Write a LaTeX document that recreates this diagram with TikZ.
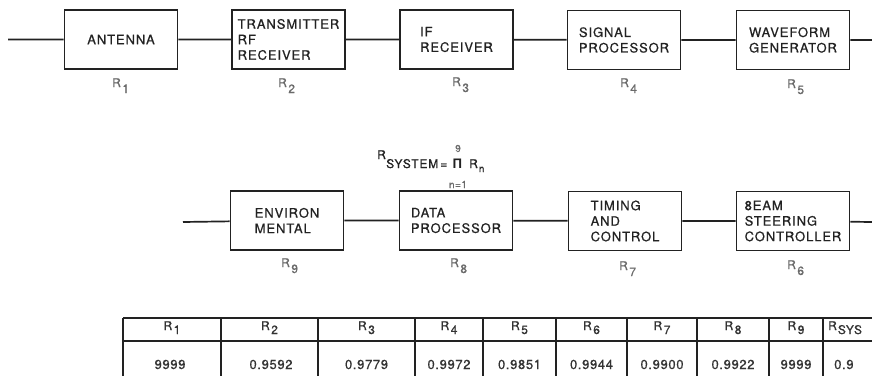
\documentclass[tikz,border=0pt]{standalone}
\usepackage{fontspec}
\setmainfont{TeX Gyre Heros}
\newfontfamily\boxfont{TeX Gyre Heros}[LetterSpace=7,FakeBold=0.7]
\newfontfamily\valfont{TeX Gyre Heros}[LetterSpace=5,FakeBold=0.6]
\definecolor{ink}{HTML}{222222}
\definecolor{labgray}{HTML}{6A6A6A}
\definecolor{celltext}{HTML}{333333}
\newcommand\Rs[2][6pt]{R\kern1.5pt\raisebox{-#1}{#2}}
\newcommand\fntbox{\boxfont\fontsize{13pt}{15.5pt}\selectfont}
\newcommand\fntlbl{\valfont\fontsize{12pt}{14pt}\selectfont}
\newcommand\fnthead{\valfont\fontsize{12pt}{14pt}\selectfont}
\newcommand\fntval{\valfont\fontsize{13pt}{15pt}\selectfont}
\newcommand\fntform{\boxfont\fontsize{12pt}{14pt}\selectfont}
\newcommand\fntsmall{\valfont\fontsize{10pt}{12pt}\selectfont}
\newcommand\fntpi{\bfseries\fontsize{13pt}{13pt}\selectfont}
\tikzset{
  blk/.style={draw=ink, line width=1.7pt, minimum width=113pt, minimum height=59pt,
    align=left, text=ink, inner sep=0pt, font=\fntbox},
  lbl/.style={anchor=base west, text=labgray, inner sep=0pt, font=\fntlbl},
  wire/.style={draw=ink, line width=1.7pt},
  tabline/.style={draw=ink, line width=1.4pt},
  hcell/.style={anchor=base, text=celltext, inner sep=0pt, font=\fnthead},
  vcell/.style={anchor=base, text=celltext, inner sep=0pt, font=\fntval},
  ftext/.style={anchor=base west, text=ink, inner sep=0pt, font=\fntform},
  fsmall/.style={anchor=base, text=labgray, inner sep=0pt, font=\fntsmall}
}
\begin{document}
\begin{tikzpicture}[x=1pt,y=-1pt]
\useasboundingbox (0,0) rectangle (872,375);

% top row
\node[blk] (ant) at (121,39.5) {ANTENNA};
\node[blk] (trx) at (288.5,39.5) {TRANSMITTER\\RF\\RECEIVER};
\node[blk] (ifr) at (456.5,39.5) {IF\\RECEIVER};
\node[blk] (sig) at (624,40) {SIGNAL\\PROCESSOR};
\node[blk] (wav) at (793,40) {WAVEFORM\\GENERATOR};
\coordinate (tl) at (8,39.5);
\coordinate (tr) at (872,40);
\draw[wire] (tl) -- (ant) -- (trx) -- (ifr) -- (sig) -- (wav) -- (tr);

\node[lbl] (r1) at (112,87) {\Rs{1}};
\node[lbl] (r2) at (278,87) {\Rs{2}};
\node[lbl] (r3) at (452,86) {\Rs{3}};
\node[lbl] (r4) at (620,87) {\Rs{4}};
\node[lbl] (r5) at (787,88) {\Rs{5}};

% formula
\node[ftext] (fr) at (377,159) {R};
\node[ftext] (fsys) at (386,168) {SYSTEM\,=};
\node[ftext, font=\fntpi] (fpi) at (453,168) {Π};
\node[ftext] (frn) at (469,168) {R\kern1pt\raisebox{-4pt}{\fntsmall n}};
\node[fsmall] (f9) at (458,152) {9};
\node[fsmall] (fn1) at (458,188) {n=1};

% bottom row
\node[blk] (env) at (287,220.5) {ENVIRON\\MENTAL};
\node[blk] (dat) at (456,220.5) {DATA\\PROCESSOR};
\node[blk] (tim) at (625,221) {TIMING\\AND\\CONTROL};
\node[blk] (bsc) at (793,221) {8EAM\\STEERING\\CONTROLLER};
\coordinate (bl) at (183,222);
\coordinate (br) at (872,222);
\draw[wire] (bl) -- (env) -- (dat) -- (tim) -- (bsc) -- (br);

\node[lbl] (r9) at (281,267) {\Rs{9}};
\node[lbl] (r8) at (450,267) {\Rs{8}};
\node[lbl] (r7) at (619,270) {\Rs{7}};
\node[lbl] (r6) at (787,269) {\Rs{6}};

% table
\draw[tabline] (123,318) -- (880,318);
\draw[tabline] (123,341) -- (880,341);
\foreach \x in {123,221,318,415,483,556,627,697,769,823}
  \draw[tabline] (\x,318) -- (\x,380);

\node[hcell] (h1) at (172,330) {\Rs[4pt]{1}};
\node[hcell] (h2) at (269.5,330) {\Rs[4pt]{2}};
\node[hcell] (h3) at (366.5,330) {\Rs[4pt]{3}};
\node[hcell] (h4) at (449,330) {\Rs[4pt]{4}};
\node[hcell] (h5) at (519.5,330) {\Rs[4pt]{5}};
\node[hcell] (h6) at (591.5,330) {\Rs[4pt]{6}};
\node[hcell] (h7) at (662,330) {\Rs[4pt]{7}};
\node[hcell] (h8) at (733,330) {\Rs[4pt]{8}};
\node[hcell] (h9) at (796,330) {\Rs[4pt]{9}};
\node[hcell, anchor=base west] (hs) at (828,330) {R\kern1pt\raisebox{-4pt}{SYS}};

\node[vcell] (v1) at (170,369) {9999};
\node[vcell] (v2) at (271,369) {0.9592};
\node[vcell] (v3) at (366.5,369) {0.9779};
\node[vcell] (v4) at (449,369) {0.9972};
\node[vcell] (v5) at (519.5,369) {0.9851};
\node[vcell] (v6) at (591.5,369) {0.9944};
\node[vcell] (v7) at (662,369) {0.9900};
\node[vcell] (v8) at (733,369) {0.9922};
\node[vcell] (v9) at (796,369) {9999};
\node[vcell, anchor=base west] (vs) at (834,369) {0.9};
\end{tikzpicture}
\end{document}
